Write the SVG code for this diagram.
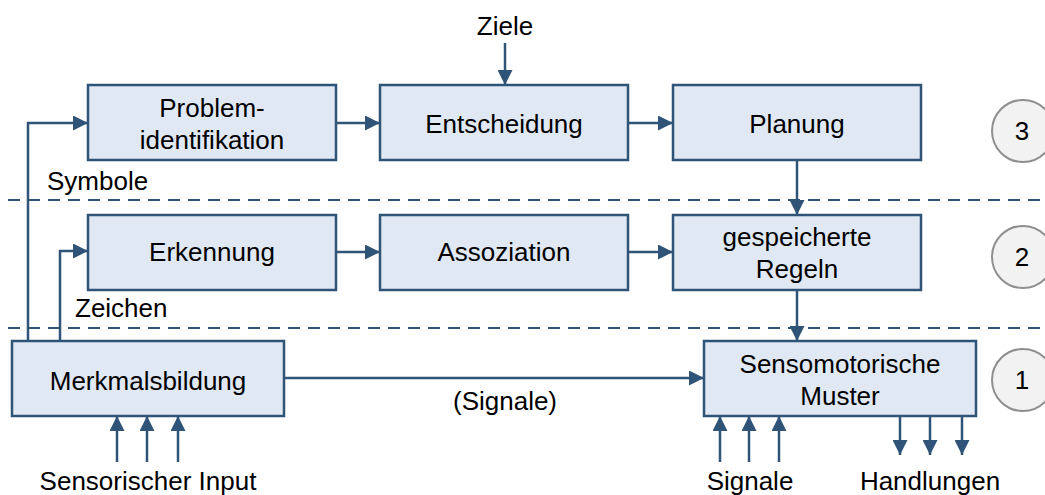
<svg xmlns="http://www.w3.org/2000/svg" width="1045" height="495" viewBox="0 0 1045 495">
<style>
.box{fill:#dfe8f3;stroke:#2f5478;stroke-width:2.5}
.t{font-family:"Liberation Sans",Arial,sans-serif;font-size:26px;fill:#000;text-anchor:middle}
.l{font-family:"Liberation Sans",Arial,sans-serif;font-size:26px;fill:#000}
.c{fill:none;stroke:#2f5478;stroke-width:2.5}
.d{fill:none;stroke:#2f5478;stroke-width:2;stroke-dasharray:12 8}
.circ{fill:#f2f2f2;stroke:#8f8f8f;stroke-width:2}
</style>
<defs>
<marker id="a" viewBox="0 0 10 10" refX="10" refY="5" markerWidth="6" markerHeight="6" markerUnits="strokeWidth" orient="auto">
<path d="M0,0 L10,5 L0,10 z" fill="#2f5478"/>
</marker>
</defs>
<g id="layers">
<line class="d" x1="8" y1="200" x2="1045" y2="200"/>
<line class="d" x1="8" y1="328" x2="1045" y2="328"/>
</g>
<g id="connectors">
<polyline class="c" points="28,341 28,123 88,123" marker-end="url(#a)"/>
<polyline class="c" points="60,341 60,251 88,251" marker-end="url(#a)"/>
<line class="c" x1="505" y1="43" x2="505" y2="85" marker-end="url(#a)"/>
<line class="c" x1="336" y1="123" x2="380" y2="123" marker-end="url(#a)"/>
<line class="c" x1="628" y1="123" x2="673" y2="123" marker-end="url(#a)"/>
<line class="c" x1="797" y1="160" x2="797" y2="215" marker-end="url(#a)"/>
<line class="c" x1="336" y1="252" x2="380" y2="252" marker-end="url(#a)"/>
<line class="c" x1="628" y1="252" x2="673" y2="252" marker-end="url(#a)"/>
<line class="c" x1="797" y1="290" x2="797" y2="341" marker-end="url(#a)"/>
<line class="c" x1="284" y1="378" x2="704" y2="378" marker-end="url(#a)"/>
<line class="c" x1="117" y1="462" x2="117" y2="416" marker-end="url(#a)"/>
<line class="c" x1="147" y1="462" x2="147" y2="416" marker-end="url(#a)"/>
<line class="c" x1="178" y1="462" x2="178" y2="416" marker-end="url(#a)"/>
<line class="c" x1="720" y1="462" x2="720" y2="416" marker-end="url(#a)"/>
<line class="c" x1="749" y1="462" x2="749" y2="416" marker-end="url(#a)"/>
<line class="c" x1="779" y1="462" x2="779" y2="416" marker-end="url(#a)"/>
<line class="c" x1="900" y1="416" x2="900" y2="455" marker-end="url(#a)"/>
<line class="c" x1="930" y1="416" x2="930" y2="455" marker-end="url(#a)"/>
<line class="c" x1="962" y1="416" x2="962" y2="455" marker-end="url(#a)"/>
</g>
<g id="problem"><rect class="box" x="88" y="85" width="248" height="75"/><text class="t" x="212" y="117">Problem-</text><text class="t" x="212" y="149">identifikation</text></g>
<g id="entscheidung"><rect class="box" x="380" y="85" width="248" height="75"/><text class="t" x="504" y="133">Entscheidung</text></g>
<g id="planung"><rect class="box" x="673" y="85" width="248" height="75"/><text class="t" x="797" y="133">Planung</text></g>
<g id="erkennung"><rect class="box" x="88" y="215" width="248" height="75"/><text class="t" x="212" y="261">Erkennung</text></g>
<g id="assoziation"><rect class="box" x="380" y="215" width="248" height="75"/><text class="t" x="504" y="261">Assoziation</text></g>
<g id="regeln"><rect class="box" x="673" y="215" width="248" height="75"/><text class="t" x="797" y="246">gespeicherte</text><text class="t" x="797" y="278">Regeln</text></g>
<g id="merkmal"><rect class="box" x="12" y="341" width="272" height="75"/><text class="t" x="148" y="390">Merkmalsbildung</text></g>
<g id="senso"><rect class="box" x="704" y="341" width="272" height="75"/><text class="t" x="840" y="373">Sensomotorische</text><text class="t" x="840" y="405">Muster</text></g>
<g id="level3"><circle class="circ" cx="1023" cy="131" r="31"/><text class="t" x="1022" y="140">3</text></g>
<g id="level2"><circle class="circ" cx="1023" cy="257" r="31"/><text class="t" x="1022" y="266">2</text></g>
<g id="level1"><circle class="circ" cx="1023" cy="380" r="31"/><text class="t" x="1022" y="389">1</text></g>
<g id="labels">
<text class="t" x="505" y="35">Ziele</text>
<text class="l" x="47" y="190">Symbole</text>
<text class="l" x="75" y="317">Zeichen</text>
<text class="t" x="505" y="410">(Signale)</text>
<text class="t" x="148" y="490">Sensorischer Input</text>
<text class="t" x="750" y="490">Signale</text>
<text class="t" x="930" y="490">Handlungen</text>
</g>
</svg>
